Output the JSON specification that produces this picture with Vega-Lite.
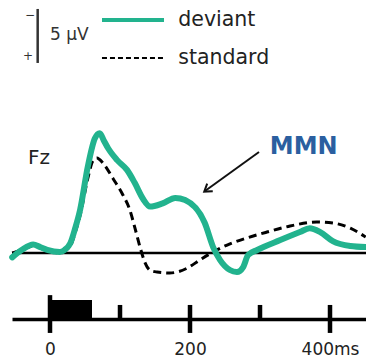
{
  "$schema": "https://vega.github.io/schema/vega-lite/v6.json",
  "width": 354,
  "height": 319,
  "autosize": {"type": "none"},
  "padding": {"left": 12, "top": 0, "right": 0, "bottom": 44},
  "config": {"view": {"stroke": null}, "font": "DejaVu Sans"},
  "datasets": {
    "erp": [
      {"t": -54, "v": 0.0, "condition": "standard"},
      {"t": -40, "v": -0.3, "condition": "standard"},
      {"t": -24, "v": -0.65, "condition": "standard"},
      {"t": -4, "v": -0.2, "condition": "standard"},
      {"t": 14, "v": 0.0, "condition": "standard"},
      {"t": 29, "v": -0.65, "condition": "standard"},
      {"t": 36, "v": -1.9, "condition": "standard"},
      {"t": 43, "v": -3.5, "condition": "standard"},
      {"t": 54, "v": -6.9, "condition": "standard"},
      {"t": 61, "v": -8.5, "condition": "standard"},
      {"t": 67, "v": -8.8, "condition": "standard"},
      {"t": 76, "v": -8.3, "condition": "standard"},
      {"t": 90, "v": -6.9, "condition": "standard"},
      {"t": 104, "v": -5.4, "condition": "standard"},
      {"t": 114, "v": -4.0, "condition": "standard"},
      {"t": 121, "v": -2.4, "condition": "standard"},
      {"t": 129, "v": -0.46, "condition": "standard"},
      {"t": 136, "v": 0.93, "condition": "standard"},
      {"t": 143, "v": 1.6, "condition": "standard"},
      {"t": 153, "v": 1.76, "condition": "standard"},
      {"t": 171, "v": 1.85, "condition": "standard"},
      {"t": 196, "v": 1.4, "condition": "standard"},
      {"t": 214, "v": 0.65, "condition": "standard"},
      {"t": 233, "v": -0.1, "condition": "standard"},
      {"t": 253, "v": -0.74, "condition": "standard"},
      {"t": 281, "v": -1.39, "condition": "standard"},
      {"t": 310, "v": -1.94, "condition": "standard"},
      {"t": 343, "v": -2.5, "condition": "standard"},
      {"t": 381, "v": -2.87, "condition": "standard"},
      {"t": 404, "v": -2.78, "condition": "standard"},
      {"t": 429, "v": -2.3, "condition": "standard"},
      {"t": 451, "v": -1.48, "condition": "standard"},
      {"t": -54, "v": 0.4, "condition": "deviant"},
      {"t": -40, "v": -0.3, "condition": "deviant"},
      {"t": -24, "v": -0.8, "condition": "deviant"},
      {"t": -14, "v": -0.55, "condition": "deviant"},
      {"t": -4, "v": -0.3, "condition": "deviant"},
      {"t": 14, "v": -0.1, "condition": "deviant"},
      {"t": 21, "v": -0.3, "condition": "deviant"},
      {"t": 29, "v": -0.9, "condition": "deviant"},
      {"t": 36, "v": -2.3, "condition": "deviant"},
      {"t": 43, "v": -4.0, "condition": "deviant"},
      {"t": 54, "v": -8.0, "condition": "deviant"},
      {"t": 64, "v": -10.6, "condition": "deviant"},
      {"t": 71, "v": -11.1, "condition": "deviant"},
      {"t": 77, "v": -10.4, "condition": "deviant"},
      {"t": 83, "v": -9.7, "condition": "deviant"},
      {"t": 96, "v": -8.6, "condition": "deviant"},
      {"t": 110, "v": -7.7, "condition": "deviant"},
      {"t": 121, "v": -6.5, "condition": "deviant"},
      {"t": 133, "v": -5.0, "condition": "deviant"},
      {"t": 143, "v": -4.3, "condition": "deviant"},
      {"t": 161, "v": -4.6, "condition": "deviant"},
      {"t": 179, "v": -5.1, "condition": "deviant"},
      {"t": 193, "v": -4.9, "condition": "deviant"},
      {"t": 221, "v": -2.8, "condition": "deviant"},
      {"t": 233, "v": -0.55, "condition": "deviant"},
      {"t": 243, "v": 0.65, "condition": "deviant"},
      {"t": 257, "v": 1.57, "condition": "deviant"},
      {"t": 267, "v": 1.76, "condition": "deviant"},
      {"t": 276, "v": 1.3, "condition": "deviant"},
      {"t": 283, "v": 0.19, "condition": "deviant"},
      {"t": 296, "v": -0.28, "condition": "deviant"},
      {"t": 329, "v": -1.2, "condition": "deviant"},
      {"t": 357, "v": -1.94, "condition": "deviant"},
      {"t": 371, "v": -2.3, "condition": "deviant"},
      {"t": 386, "v": -1.94, "condition": "deviant"},
      {"t": 404, "v": -1.1, "condition": "deviant"},
      {"t": 429, "v": -0.65, "condition": "deviant"},
      {"t": 451, "v": -0.55, "condition": "deviant"}
    ],
    "ticks": [
      {"t": 0, "kind": "onset"},
      {"t": 100, "kind": "minor"},
      {"t": 200, "kind": "major"},
      {"t": 300, "kind": "minor"},
      {"t": 400, "kind": "major"}
    ]
  },
  "layer": [
    {
      "data": {"values": [{"baseline": 0}]},
      "mark": {"type": "rule", "color": "black", "strokeWidth": 2.5},
      "encoding": {
        "y": {"field": "baseline", "type": "quantitative",
              "scale": {"domain": [-23.43, 6.11], "reverse": true, "nice": false, "zero": false},
              "axis": null}
      }
    },
    {
      "data": {"name": "erp"},
      "transform": [{"filter": "datum.condition === 'standard'"}],
      "mark": {"type": "line", "strokeWidth": 3, "strokeDash": [8, 5], "interpolate": "monotone"},
      "encoding": {
        "x": {"field": "t", "type": "quantitative",
              "scale": {"domain": [-54.29, 451.43], "nice": false, "zero": false},
              "axis": {"title": null, "values": [0, 200, 400], "ticks": false, "grid": false,
                       "domain": true, "domainColor": "black", "domainWidth": 3.5,
                       "labelExpr": "datum.value == 400 ? '400ms' : datum.label",
                       "labelFont": "DejaVu Sans", "labelFontSize": 17, "labelColor": "#222",
                       "labelPadding": 22, "labelFlush": false, "labelOverlap": false}},
        "y": {"field": "v", "type": "quantitative", "axis": null},
        "color": {"field": "condition", "type": "nominal",
                  "scale": {"domain": ["deviant", "standard"], "range": ["#22b38e", "black"]},
                  "legend": {"orient": "none", "legendX": 88, "legendY": 9.75, "title": null, "padding": 0,
                             "symbolType": "M-5,0H5", "symbolSize": 154, "symbolOffset": 22.75,
                             "labelOffset": 35, "rowPadding": 17,
                             "labelFont": "DejaVu Sans", "labelFontSize": 20.5, "labelColor": "#222",
                             "encode": {"symbols": {"update": {
                               "strokeWidth": {"signal": "datum.value === 'deviant' ? 4 : 2"},
                               "strokeDash": {"signal": "datum.value === 'deviant' ? [1, 0] : [5, 3]"},
                               "fill": {"value": "transparent"}}}}}}
      }
    },
    {
      "data": {"name": "erp"},
      "transform": [{"filter": "datum.condition === 'deviant'"}],
      "mark": {"type": "line", "strokeWidth": 6, "interpolate": "monotone", "strokeCap": "round", "strokeJoin": "round"},
      "encoding": {
        "x": {"field": "t", "type": "quantitative"},
        "y": {"field": "v", "type": "quantitative"},
        "color": {"field": "condition", "type": "nominal"}
      }
    },
    {
      "data": {"values": [{"start": 0, "end": 60}]},
      "mark": {"type": "rect", "color": "black"},
      "encoding": {
        "x": {"field": "start", "type": "quantitative"},
        "x2": {"field": "end"},
        "y": {"datum": 4.35, "type": "quantitative"},
        "y2": {"datum": 6.11}
      }
    },
    {
      "data": {"name": "ticks"},
      "transform": [{"filter": "datum.kind === 'onset'"}],
      "mark": {"type": "rule", "color": "black", "strokeWidth": 4.5},
      "encoding": {
        "x": {"field": "t", "type": "quantitative"},
        "y": {"datum": 3.9, "type": "quantitative"},
        "y2": {"datum": 7.4}
      }
    },
    {
      "data": {"name": "ticks"},
      "transform": [{"filter": "datum.kind === 'major'"}],
      "mark": {"type": "rule", "color": "black", "strokeWidth": 4.5},
      "encoding": {
        "x": {"field": "t", "type": "quantitative"},
        "y": {"datum": 4.81, "type": "quantitative"},
        "y2": {"datum": 7.4}
      }
    },
    {
      "data": {"name": "ticks"},
      "transform": [{"filter": "datum.kind === 'minor'"}],
      "mark": {"type": "rule", "color": "black", "strokeWidth": 4.5},
      "encoding": {
        "x": {"field": "t", "type": "quantitative"},
        "y": {"datum": 4.81, "type": "quantitative"},
        "y2": {"datum": 6.11}
      }
    },
    {
      "data": {"values": [{"t": -17.6, "top": -22.6, "bottom": -17.6}]},
      "mark": {"type": "rule", "color": "#333", "strokeWidth": 2.5},
      "encoding": {
        "x": {"field": "t", "type": "quantitative"},
        "y": {"field": "top", "type": "quantitative"},
        "y2": {"field": "bottom"}
      }
    },
    {
      "data": {"values": [
        {"t": -28.6, "v": -22.0, "label": "−"},
        {"t": -31.4, "v": -18.2, "label": "+"}
      ]},
      "mark": {"type": "text", "fontSize": 12, "color": "#333", "font": "DejaVu Sans"},
      "encoding": {
        "x": {"field": "t", "type": "quantitative"},
        "y": {"field": "v", "type": "quantitative"},
        "text": {"field": "label"}
      }
    },
    {
      "data": {"values": [{"t": 0, "v": -20.2, "label": "5  µV"}]},
      "mark": {"type": "text", "fontSize": 17, "color": "#333", "align": "left", "font": "DejaVu Sans"},
      "encoding": {
        "x": {"field": "t", "type": "quantitative"},
        "y": {"field": "v", "type": "quantitative"},
        "text": {"field": "label"}
      }
    },
    {
      "data": {"values": [{"t": -31.4, "v": -8.8, "label": "Fz"}]},
      "mark": {"type": "text", "fontSize": 20, "color": "#222", "align": "left", "font": "DejaVu Sans"},
      "encoding": {
        "x": {"field": "t", "type": "quantitative"},
        "y": {"field": "v", "type": "quantitative"},
        "text": {"field": "label"}
      }
    },
    {
      "data": {"values": [{"t": 314, "v": -9.86, "label": "MMN"}]},
      "mark": {"type": "text", "fontSize": 24, "fontWeight": "bold", "color": "#2b5fa0", "align": "left", "font": "DejaVu Sans"},
      "encoding": {
        "x": {"field": "t", "type": "quantitative"},
        "y": {"field": "v", "type": "quantitative"},
        "text": {"field": "label"}
      }
    },
    {
      "data": {"values": [{"t": 298.6, "v": -9.35, "t1": 221.4, "v1": -5.74}]},
      "mark": {"type": "rule", "color": "#111", "strokeWidth": 2},
      "encoding": {
        "x": {"field": "t", "type": "quantitative"},
        "y": {"field": "v", "type": "quantitative"},
        "x2": {"field": "t1"},
        "y2": {"field": "v1"}
      }
    },
    {
      "data": {"values": [{"t": 221.4, "v": -5.74}]},
      "mark": {"type": "point", "shape": "M-1,1.3L0,-0.2L1,1.3", "size": 90, "filled": false, "color": "#111", "strokeWidth": 2, "angle": 234, "opacity": 1},
      "encoding": {
        "x": {"field": "t", "type": "quantitative"},
        "y": {"field": "v", "type": "quantitative"}
      }
    }
  ]
}
